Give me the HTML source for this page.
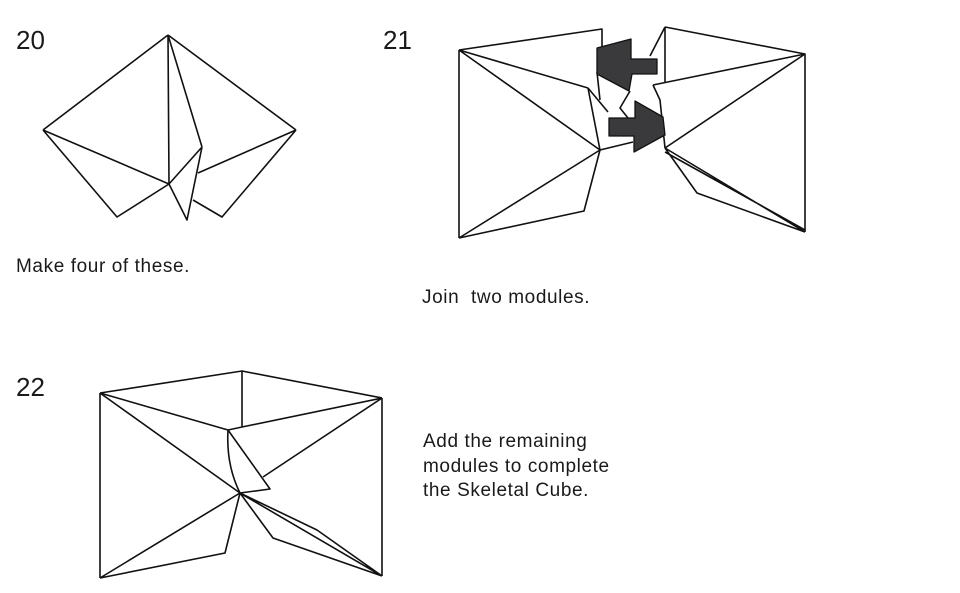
<!DOCTYPE html>
<html><head><meta charset="utf-8"><style>
html,body{margin:0;padding:0;background:#fff;}
body{width:960px;height:593px;position:relative;overflow:hidden;font-family:"Liberation Sans",sans-serif;color:#1a1a1a;}
.n{position:absolute;font-size:26px;line-height:1;}
.t{position:absolute;font-size:19px;letter-spacing:0.6px;line-height:24.5px;white-space:nowrap;}
svg{position:absolute;left:0;top:0;}
</style></head><body>
<svg width="960" height="593" viewBox="0 0 960 593" fill="none" stroke="#111" stroke-width="1.6" stroke-linejoin="round">
<path d="M168,35 L43,130 M168,35 L296,130 M168,35 L169,184 M168,35 L202,147 M43,130 L169,184 M43,130 L117,217 L169,184 M296,130 L198,173 M296,130 L222,217 L193,200 M169,184 L202,147 M169,184 L187,220 L202,147"/>
<path d="M459,50 L459,238 M459,50 L602,29 L602,72 M459,50 L588,88 M459,50 L600,150 M588,88 L600,150 M459,238 L600,150 M459,238 L584,211 L600,150 M588,88 L608,112 M600,150 L633,142 M597,72 L600,100 M630,91 L620,108 L628,118"/>
<path d="M665,27 L805,54 L805,232 M665,27 L665,82 M665,27 L650,56 M653,85 L805,54 M653,85 L660,100 L665,148 M665,148 L805,54 M665,148 L805,232 M665,148 L697,193 L805,232 M665,152 L805,230"/>
<path d="M597,48 L631,39 L631,59 L657,59 L657,74 L632,74 L629,91 L597,74 Z" fill="#3a3a3d" stroke="#111" stroke-width="1.3"/>
<path d="M609,118 L635,118 L635,101 L663,117 L665,135 L634,152 L634,136 L609,136 Z" fill="#3a3a3d" stroke="#111" stroke-width="1.3"/>
<path d="M100,393 L242,371 L382,398 M242,371 L242,427 M100,393 L228,430 L242,427 L382,398 M100,393 L240,493 M100,393 L100,578 M382,398 L382,576 M382,398 L263,477 M100,578 L240,493 M100,578 L225,553 L240,493 M382,576 L240,493 M382,576 L273,538 L240,493 M382,576 L317,530 L240,493 M228,430 L270,489 L240,493 M228,430 Q226,465 240,493"/>
</svg>
<div class="n" style="left:16px;top:27px;">20</div>
<div class="n" style="left:383px;top:27px;">21</div>
<div class="n" style="left:16px;top:374px;">22</div>
<div class="t" style="left:16px;top:255px;">Make four of these.</div>
<div class="t" style="left:422px;top:286px;">Join&nbsp; two modules.</div>
<div class="t" style="left:423px;top:430px;">Add the remaining<br>modules to complete<br>the Skeletal Cube.</div>
</body></html>
